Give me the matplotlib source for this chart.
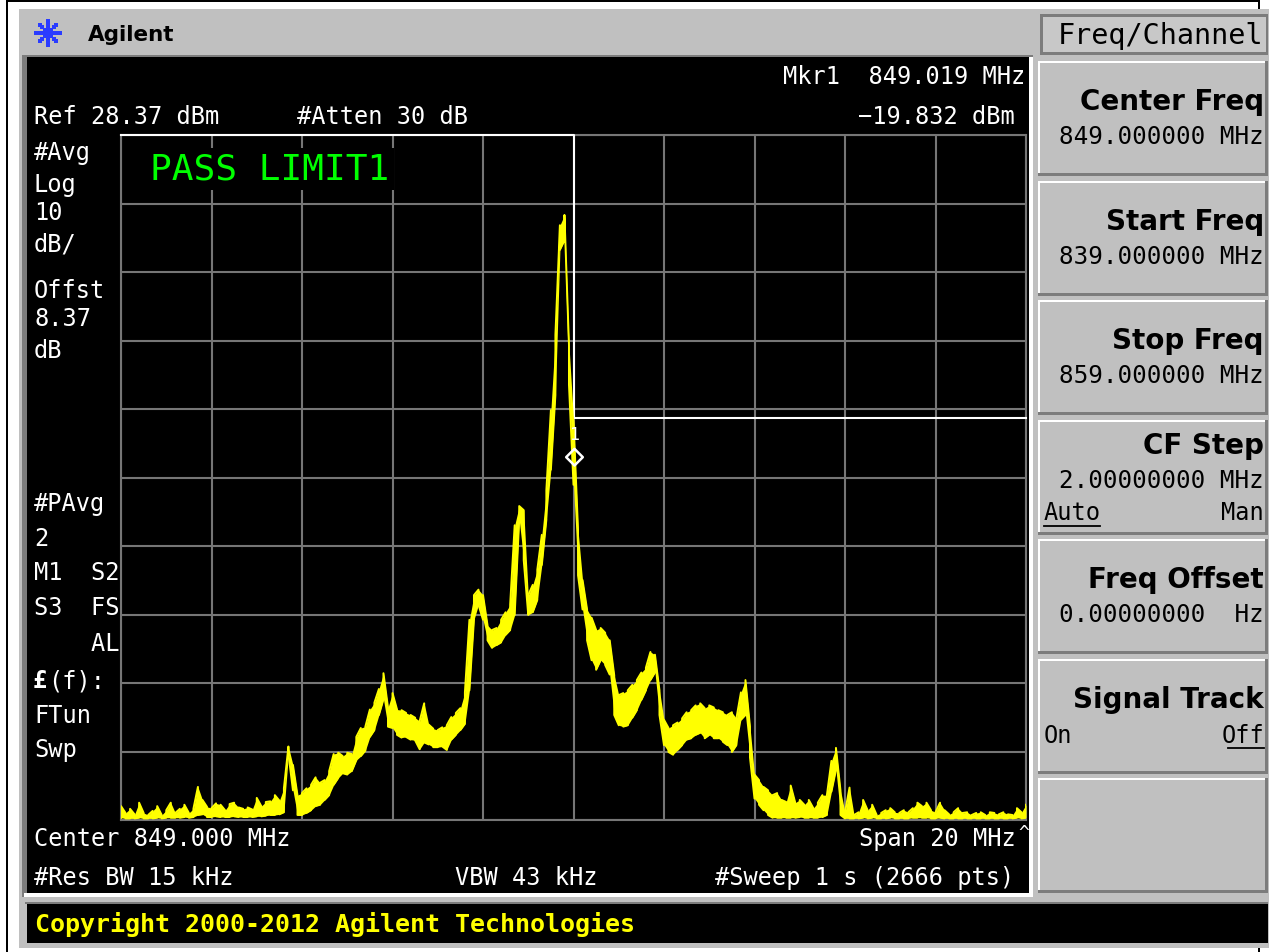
import matplotlib.pyplot as plt
import numpy as np
from matplotlib.patches import Rectangle
from matplotlib.path import Path

# Sweep settings
start_freq = 839.0      # MHz
stop_freq = 859.0       # MHz
ref_level = 28.37       # dBm
db_per_div = 10

# Trace, one column per 0.1 MHz: top and bottom of the noisy trace (dBm)
trace_hi = [
    -69.6, -70.6, -70.0, -70.8, -69.1, -70.6, -70.9, -70.3, -69.6, -70.9,
    -70.2, -69.1, -70.6, -70.0, -69.4, -70.6, -70.0, -66.8, -68.7, -69.7,
    -69.9, -69.2, -69.4, -70.2, -69.3, -69.1, -69.8, -70.0, -69.8, -70.1,
    -68.4, -69.6, -69.0, -68.9, -68.0, -68.8, -67.0, -60.9, -63.6, -68.0,
    -67.7, -67.0, -66.5, -65.4, -66.2, -65.8, -64.5, -62.0, -61.8, -62.3,
    -61.8, -62.0, -59.5, -58.2, -58.0, -55.5, -54.5, -52.5, -50.2, -55.2,
    -53.1, -55.5, -55.6, -56.0, -56.3, -56.7, -57.2, -54.6, -57.7, -58.3,
    -58.5, -58.1, -57.8, -56.6, -56.0, -55.3, -53.0, -42.4, -38.8, -38.0,
    -38.8, -43.2, -43.9, -43.6, -42.4, -41.3, -40.2, -28.6, -25.8, -26.4,
    -38.8, -37.3, -35.1, -30.0, -23.5, -11.8, -0.8, 15.2, 16.7, -2.3,
    -13.2, -29.3, -36.6, -40.9, -42.1, -43.9, -43.6, -44.3, -45.4, -50.5,
    -53.4, -53.1, -52.7, -51.9, -51.2, -50.1, -49.4, -47.1, -47.5, -52.7,
    -57.0, -58.2, -57.8, -57.4, -56.8, -55.9, -55.6, -54.9, -54.6, -55.3,
    -54.9, -55.2, -55.6, -55.9, -56.3, -55.9, -56.8, -53.0, -51.2, -58.0,
    -65.0, -65.8, -66.8, -67.3, -68.0, -67.7, -68.7, -69.0, -66.6, -69.1,
    -68.7, -69.4, -68.7, -69.9, -69.1, -68.0, -68.0, -63.0, -61.1, -67.3,
    -70.5, -66.9, -70.9, -70.5, -68.7, -70.2, -69.4, -70.9, -70.6, -70.2,
    -69.9, -70.5, -70.6, -70.2, -70.5, -69.9, -69.1, -69.6, -69.1, -70.2,
    -70.5, -69.1, -70.2, -70.8, -70.5, -69.9, -70.6, -70.5, -70.9, -70.6,
    -70.5, -70.9, -70.5, -70.6, -70.8, -70.5, -70.8, -70.9, -69.9, -70.5,
    -69.4,
]
trace_lo = [
    -71.3, -71.4, -71.4, -71.4, -71.3, -71.4, -71.4, -71.4, -71.3, -71.4,
    -71.3, -71.3, -71.3, -71.3, -71.2, -71.3, -71.2, -70.9, -70.8, -71.2,
    -71.2, -71.1, -71.2, -71.2, -71.2, -71.1, -71.2, -71.2, -71.2, -71.2,
    -71.1, -71.1, -71.0, -70.9, -70.9, -70.8, -70.5, -62.0, -67.3, -70.9,
    -70.9, -70.6, -70.2, -69.6, -69.4, -68.7, -68.0, -66.5, -65.5, -64.8,
    -65.0, -64.5, -62.9, -62.3, -61.5, -59.5, -58.5, -56.3, -54.0, -58.0,
    -58.2, -59.2, -59.6, -59.5, -59.9, -60.0, -61.3, -60.3, -60.6, -61.0,
    -61.0, -60.9, -61.4, -59.9, -59.2, -58.5, -57.6, -52.7, -42.4, -40.2,
    -42.4, -45.4, -46.5, -46.1, -45.7, -44.6, -43.9, -41.7, -27.8, -33.7,
    -41.7, -41.3, -39.5, -34.4, -27.8, -20.5, -9.6, 11.6, 13.0, -8.1,
    -22.7, -35.9, -40.9, -45.4, -48.3, -49.7, -48.3, -49.0, -50.4, -56.3,
    -57.8, -58.0, -57.8, -56.7, -55.6, -54.1, -52.7, -51.2, -50.1, -56.3,
    -60.7, -61.7, -62.1, -61.4, -60.7, -59.9, -59.7, -59.2, -58.9, -59.7,
    -59.2, -59.7, -59.7, -60.2, -60.7, -61.7, -60.7, -57.0, -56.3, -62.5,
    -68.5, -69.4, -70.2, -70.9, -71.3, -71.3, -71.3, -71.3, -71.3, -71.3,
    -71.2, -71.3, -71.3, -71.3, -71.3, -71.2, -70.9, -67.5, -64.3, -70.9,
    -71.4, -71.4, -71.4, -71.4, -71.3, -71.4, -71.3, -71.4, -71.4, -71.4,
    -71.3, -71.4, -71.4, -71.4, -71.4, -71.3, -71.3, -71.3, -71.3, -71.4,
    -71.4, -71.3, -71.4, -71.4, -71.4, -71.4, -71.4, -71.4, -71.4, -71.4,
    -71.4, -71.4, -71.4, -71.4, -71.4, -71.4, -71.4, -71.4, -71.3, -71.4,
    -71.3,
]

# Limit line (dBm)
limit_freq = [839.0, 849.0, 849.0, 859.0]
limit_level = [28.37, 28.37, -13.0, -13.0]

# Marker 1
marker_freq = 849.019
marker_level = -19.832

# Softkey menu
menu_title = "Freq/Channel"
key_labels = ["Center Freq", "Start Freq", "Stop Freq", "CF Step",
              "Freq Offset", "Signal Track", ""]
key_values = ["849.000000 MHz", "839.000000 MHz", "859.000000 MHz",
              "2.00000000 MHz", "0.00000000  Hz", "", ""]

W, H = 1271, 952
MONO = "DejaVu Sans Mono"
SANS = "DejaVu Sans"
GREY = "#c0c0c0"
DARK = "#7c7c7c"
GRID = "#767676"
YELLOW = "#ffff00"

fig = plt.figure(figsize=(W / 100, H / 100), dpi=100)
fig.patch.set_facecolor("white")

# pixel-space canvas for the instrument frame
bg = fig.add_axes([0, 0, 1, 1])
bg.set_xlim(0, W)
bg.set_ylim(H, 0)
bg.axis("off")


def box(x0, y0, x1, y1, color):
    bg.add_patch(Rectangle((x0, y0), x1 - x0, y1 - y0, facecolor=color,
                           edgecolor="none"))


def label(x, y, s, size=17, color="white", family=MONO, weight="normal",
          ha="left"):
    fig.text(x, y, s, transform=bg.transData, fontsize=size, color=color,
             family=family, weight=weight, ha=ha, va="baseline", zorder=5)


# outer frame and panel
box(6, 0, 8, H, "black")
box(6, 0, 1260, 2, "black")
box(1258, 0, 1260, H, "black")
box(19, 9, 1269, 948, GREY)

# display window with bevel
box(22, 55, 1033, 897, DARK)
box(1029, 57, 1033, 897, "white")
box(24, 893, 1033, 897, "white")
box(27, 57, 1029, 893, "black")

# copyright strip
box(25, 902, 1268, 904, DARK)
box(27, 904, 1268, 943, "black")
label(35, 932, "Copyright 2000-2012 Agilent Technologies", size=18,
      color=YELLOW, weight="bold")

# header logo and name
for ang in np.arange(0, 360, 45):
    r = np.array([4.0, 8.0, 12.0])
    bg.scatter(48 + r * np.cos(np.radians(ang)),
               33 + r * np.sin(np.radians(ang)),
               s=7, color="#2a3cff", marker="s", linewidths=0)
bg.scatter([48], [33], s=7, color="#2a3cff", marker="s", linewidths=0)
label(88, 41, "Agilent", size=15.5, color="black", family=SANS,
      weight="bold")

# softkey column
box(1040, 14, 1268, 55, DARK)
box(1043, 17, 1266, 52, "#c8c8c8")
label(1263, 44, menu_title, size=20.5, color="black", ha="right")

key_tops = [61, 181, 300, 420, 539, 659, 778]
for top, name, value in zip(key_tops, key_labels, key_values):
    bot = top + 115
    box(1038, top, 1268, bot, DARK)
    box(1038, top, 1265, bot - 3, "white")
    box(1040, top + 2, 1265, bot - 3, GREY)
    if name == "CF Step":
        label(1264, top + 34, name, size=20, color="black", family=SANS,
              weight="bold", ha="right")
        label(1264, top + 68, value, size=17.5, color="black", ha="right")
        label(1044, top + 100, "Auto", size=17, color="black")
        label(1264, top + 100, "Man", size=17, color="black", ha="right")
        bg.plot([1044, 1100], [top + 106, top + 106], color="black", lw=1.3)
    elif name == "Signal Track":
        label(1264, top + 49, name, size=20, color="black", family=SANS,
              weight="bold", ha="right")
        label(1044, top + 84, "On", size=17, color="black")
        label(1264, top + 84, "Off", size=17, color="black", ha="right")
        bg.plot([1228, 1264], [top + 89, top + 89], color="black", lw=1.3)
    elif name:
        label(1264, top + 49, name, size=20, color="black", family=SANS,
              weight="bold", ha="right")
        label(1264, top + 83, value, size=17.5, color="black", ha="right")

# annotation text around the graticule
label(1025, 84, "Mkr1  849.019 MHz", ha="right")
label(1015, 124, "\u221219.832 dBm", ha="right")
label(34, 124, "Ref 28.37 dBm")
label(297, 124, "#Atten 30 dB")

left_col = [("#Avg", 160), ("Log", 192), ("10", 220), ("dB/", 252),
            ("Offst", 298), ("8.37", 326), ("dB", 358),
            ("#PAvg", 511), ("2", 546), ("M1  S2", 580), ("S3  FS", 615),
            ("    AL", 651), ("FTun", 723), ("Swp", 757)]
for s, y in left_col:
    label(34, y, s)
label(33, 688, "\u00a3", weight="bold")
label(48, 688, "(f):")

label(34, 846, "Center 849.000 MHz")
label(1016, 846, "Span 20 MHz", ha="right")
label(1018, 838, "^", size=13)
label(34, 885, "#Res BW 15 kHz")
label(455, 885, "VBW 43 kHz")
label(1014, 885, "#Sweep 1 s (2666 pts)", ha="right")

# graticule
ax = fig.add_axes([121 / W, 1 - 820 / H, 905 / W, 685 / H])
ax.patch.set_visible(False)
bottom = ref_level - 10 * db_per_div
ax.set_xlim(start_freq, stop_freq)
ax.set_ylim(bottom, ref_level)
ax.set_xticks(np.arange(start_freq, stop_freq + 0.1, 2))
ax.set_yticks(bottom + db_per_div * np.arange(11))
ax.grid(True, color=GRID, lw=1.5)
ax.tick_params(length=0, labelbottom=False, labelleft=False)
for sp in ax.spines.values():
    sp.set_color(GRID)
    sp.set_linewidth(1.5)

ax.plot(limit_freq, limit_level, color="white", lw=1.5, clip_on=False,
        zorder=3)

# trace: min/max band per column, with the jagged column ladder on top
freqs = np.linspace(start_freq, stop_freq, len(trace_hi))
ax.fill_between(freqs, trace_lo, trace_hi, color=YELLOW, lw=0, zorder=4)
xs, ys = [], []
for i, (f, hi, lo) in enumerate(zip(freqs, trace_hi, trace_lo)):
    xs += [f, f]
    ys += [lo, hi] if i % 2 == 0 else [hi, lo]
ax.plot(xs, ys, color=YELLOW, lw=1.4, zorder=4)

# marker diamond sits on top of the trace point
diamond = Path([(0, 0), (-0.5, 0.5), (0, 1), (0.5, 0.5), (0, 0)],
               [Path.MOVETO, Path.LINETO, Path.LINETO, Path.LINETO,
                Path.CLOSEPOLY])
ax.plot([marker_freq], [marker_level], marker=diamond, ms=24, mfc="none",
        mec="white", mew=1.8, ls="none", zorder=6, clip_on=False)
ax.annotate("1", (marker_freq, marker_level), xytext=(0, 30),
            textcoords="offset pixels", ha="center", va="center",
            color="white", family=MONO, fontsize=12, zorder=6)

ax.text(150, 179, "PASS LIMIT1", transform=bg.transData, fontsize=26,
        color="#00ff00", family=MONO, va="baseline", zorder=7,
        bbox=dict(facecolor="black", edgecolor="none", pad=3))

fig.savefig("out.png", dpi=100)
